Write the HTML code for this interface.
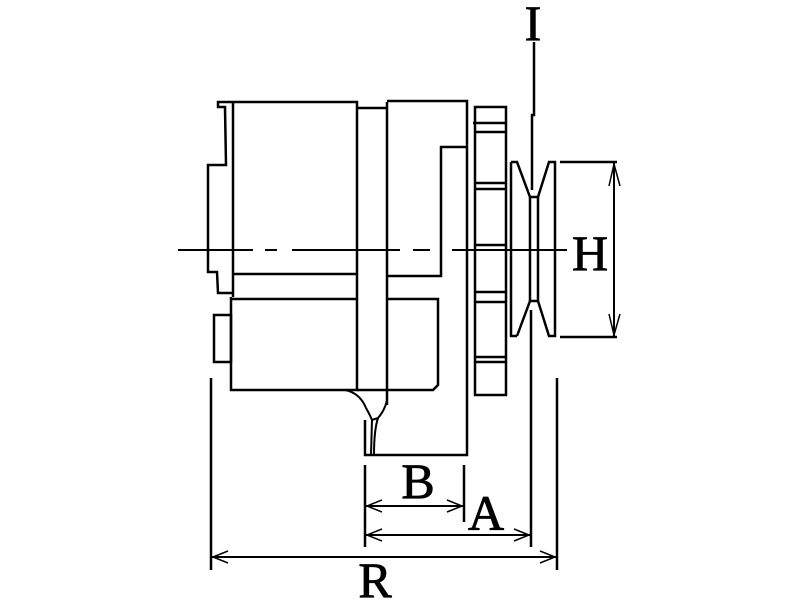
<!DOCTYPE html>
<html><head><style>html,body{margin:0;padding:0;background:#fff}svg{display:block}</style></head>
<body>
<svg width="800" height="600" viewBox="0 0 800 600" xmlns="http://www.w3.org/2000/svg">
<g fill="none" stroke="#000" stroke-width="2.5" stroke-linejoin="miter">
<!-- left bracket -->
<polyline points="233,102 218,102 218,107 225,107 226,165 208,165 208,272 217,272 218,293 232,293"/>
<rect x="214" y="315" width="17" height="47"/>
<!-- main left body -->
<polyline points="233,102 357,102 357,390 231,390 231,297"/>
<line x1="233" y1="102" x2="233" y2="297"/>
<line x1="233" y1="274" x2="357" y2="274"/>
<line x1="231" y1="299" x2="357" y2="299"/>
<!-- middle strip -->
<polyline points="357,108 387,108"/>
<line x1="387" y1="102" x2="387" y2="405"/>
<!-- right body -->
<polyline points="387,101 467,101 467,455 365,455 365,420"/>
<polyline points="467,147 441,147 441,276 387,276"/>
<polyline points="387,299 438,299 438,385 433,390 357,390"/>
<!-- break curves -->
<path d="M345,390 Q360,393 366,408 Q370,415 372,420 L378,418 Q385,410 387,400" stroke-width="2"/>
<path d="M372,420 L371,455 M378,418 Q374,430 374,455" stroke-width="2"/>
<!-- fan -->
<rect x="475" y="107" width="31" height="288"/>
<line x1="473" y1="123" x2="506" y2="123"/><line x1="475" y1="132" x2="506" y2="132"/>
<line x1="475" y1="183" x2="506" y2="183"/><line x1="475" y1="189" x2="506" y2="189"/>
<line x1="475" y1="245" x2="506" y2="245"/>
<line x1="475" y1="292" x2="506" y2="292"/><line x1="475" y1="302" x2="506" y2="302"/>
<line x1="475" y1="357" x2="506" y2="357"/><line x1="475" y1="362" x2="506" y2="362"/>
<!-- pulley -->
<polyline points="511,162 511,336 517,336"/>
<polyline points="511,162 517,162 530,197 538,197 549,162 555,162 555,336 549,336 538,301 530,301 517,336"/>
<line x1="530" y1="197" x2="530" y2="301"/>
<line x1="538" y1="197" x2="538" y2="301"/>
<!-- I line -->
<polyline points="534,42 534,115 532,115 532,190"/>
<line x1="531" y1="310" x2="531" y2="547"/>
<!-- centerline -->
<g stroke-width="2">
<line x1="178" y1="250" x2="253" y2="250"/>
<line x1="265" y1="250" x2="277" y2="250"/>
<line x1="292" y1="250" x2="400" y2="250"/>
<line x1="413" y1="250" x2="430" y2="250"/>
<line x1="452" y1="250" x2="567" y2="250"/>
</g>
<!-- H dims -->
<line x1="560" y1="162" x2="617" y2="162"/>
<line x1="560" y1="337" x2="617" y2="337"/>
<line x1="614" y1="162" x2="614" y2="337" stroke-width="2"/>
<polyline points="609,186 614,164 620,186" stroke-width="1.5"/>
<polyline points="609,314 614,335 620,314" stroke-width="1.5"/>
<!-- extension lines -->
<line x1="211" y1="378" x2="211" y2="570"/>
<line x1="557" y1="378" x2="557" y2="570"/>
<line x1="365" y1="465" x2="365" y2="547"/>
<line x1="464" y1="465" x2="464" y2="522"/>
<!-- dim lines -->
<line x1="211" y1="557" x2="557" y2="557" stroke-width="2"/>
<line x1="365" y1="506" x2="464" y2="506" stroke-width="2"/>
<line x1="365" y1="535" x2="531" y2="535" stroke-width="2"/>
<g stroke-width="1.5">
<polyline points="228,551 213,557 228,563"/><polyline points="540,551 555,557 540,563"/>
<polyline points="382,500 367,506 382,512"/><polyline points="447,500 462,506 447,512"/>
<polyline points="382,529 367,535 382,541"/><polyline points="514,529 529,535 514,541"/>
</g>
</g>
<g font-family="'Liberation Serif', serif" font-size="50" fill="#000" stroke="#000" stroke-width="0.8" text-anchor="middle">
<text x="533" y="40">I</text>
<text x="590" y="270">H</text>
<text x="418" y="498">B</text>
<text x="486" y="530">A</text>
<text x="375" y="597">R</text>
</g>
</svg>
</body></html>
